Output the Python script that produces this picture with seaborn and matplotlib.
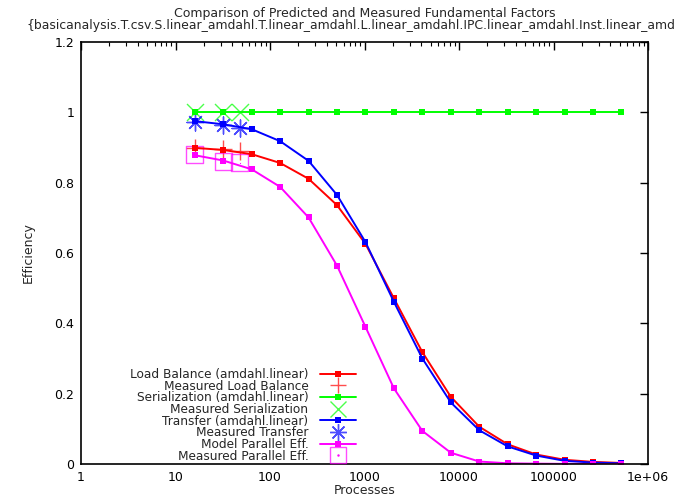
import numpy as np
import pandas as pd
import matplotlib
matplotlib.use("Agg")
import matplotlib.pyplot as plt
import seaborn as sns
from matplotlib.legend_handler import HandlerTuple
from matplotlib.lines import Line2D

# ---- data ----
procs = [16, 32, 64, 128, 256, 512, 1024, 2048, 4096, 8192, 16384, 32768,
         65536, 131072, 262144, 524288]
load_balance = [0.899, 0.893, 0.881, 0.856, 0.811, 0.736, 0.626, 0.471, 0.318,
                0.191, 0.106, 0.056, 0.027, 0.012, 0.006, 0.003]
serialization = [1.0] * 16
transfer = [0.975, 0.966, 0.952, 0.918, 0.862, 0.765, 0.631, 0.461, 0.300,
            0.175, 0.096, 0.050, 0.024, 0.009, 0.004, 0.002]
model_par = [0.878, 0.863, 0.838, 0.788, 0.701, 0.564, 0.390, 0.215, 0.094,
             0.032, 0.007, 0.002, 0.001, 0.0005, 0.0002, 0.0001]

meas_procs = [16, 32, 48]
meas_load = [0.900, 0.895, 0.890]
meas_ser = [1.0, 1.0, 1.0]
meas_transfer = [0.973, 0.964, 0.956]
meas_par = [0.881, 0.860, 0.856]

xtick_vals = [1, 10, 100, 1000, 10000, 100000, 1000000]
xtick_labels = ["1", "10", "100", "1000", "10000", "100000", "1e+06"]
ytick_vals = [0, 0.2, 0.4, 0.6, 0.8, 1.0, 1.2]
ytick_labels = ["0", "0.2", "0.4", "0.6", "0.8", "1", "1.2"]

title1 = "Comparison of Predicted and Measured Fundamental Factors"
title2 = "{basicanalysis.T.csv.S.linear_amdahl.T.linear_amdahl.L.linear_amdahl.IPC.linear_amdahl.Inst.linear_amdahl}"

# ---- style ----
sns.set_style("white")
plt.rcParams["font.family"] = ["DejaVu Sans"]
plt.rcParams["font.size"] = 9

W, H = 674, 497
fig = plt.figure(figsize=(W / 100, H / 100), dpi=100)
L, R, B, T = 81, 648, 464, 42
ax = fig.add_axes([L / W, (H - B) / H, (R - L) / W, (B - T) / H])
ax.set_xscale("log")

RED, GREEN, BLUE, MAG = "#ff0000", "#00ff00", "#0000ff", "#ff00ff"

model_df = pd.DataFrame({
    "procs": procs * 4,
    "eff": load_balance + serialization + transfer + model_par,
    "series": (["Load Balance (amdahl.linear)"] * 16 + ["Serialization (amdahl.linear)"] * 16
               + ["Transfer (amdahl.linear)"] * 16 + ["Model Parallel Eff."] * 16),
})
colors = {"Load Balance (amdahl.linear)": RED, "Serialization (amdahl.linear)": GREEN,
          "Transfer (amdahl.linear)": BLUE, "Model Parallel Eff.": MAG}

handles = {}
for name, col in colors.items():
    sub = model_df[model_df.series == name]
    sns.lineplot(data=sub, x="procs", y="eff", ax=ax, color=col, lw=1.4,
                 marker="s", markersize=4, markeredgewidth=0, legend=False)
    handles[name] = Line2D([], [], color=col, lw=1.4, marker="s", markersize=4,
                           markeredgewidth=0)

mk = dict(s=150, linewidths=1.0, alpha=0.7)
sns.scatterplot(x=meas_procs, y=meas_load, ax=ax, marker="+", color=RED, **mk)
sns.scatterplot(x=meas_procs, y=meas_ser, ax=ax, marker="x", color=GREEN, **mk)
sns.scatterplot(x=meas_procs, y=meas_transfer, ax=ax, marker=(8, 2, 0),
                color=BLUE, **mk)
sns.scatterplot(x=meas_procs, y=meas_par, ax=ax, marker="s", facecolor="none",
                edgecolor=MAG, s=150, linewidths=1.0, alpha=0.7)
sns.scatterplot(x=meas_procs, y=meas_par, ax=ax, marker=".", color=MAG, s=3,
                linewidths=0)

h_ml = Line2D([], [], ls="none", marker="+", color=RED, markersize=12, alpha=0.7)
h_ms = Line2D([], [], ls="none", marker="x", color=GREEN, markersize=12, alpha=0.7)
h_mt = Line2D([], [], ls="none", marker=(8, 2, 0), color=BLUE, markersize=12, alpha=0.7)
h_mp = Line2D([], [], ls="none", marker="s", markerfacecolor="none",
              markeredgecolor=MAG, markersize=11, alpha=0.7)
h_mpd = Line2D([], [], ls="none", marker=".", color=MAG, markersize=1.5)

leg_handles = [handles["Load Balance (amdahl.linear)"], h_ml,
               handles["Serialization (amdahl.linear)"], h_ms,
               handles["Transfer (amdahl.linear)"], h_mt,
               handles["Model Parallel Eff."], (h_mp, h_mpd)]
leg_labels = ["Load Balance (amdahl.linear)", "Measured Load Balance",
              "Serialization (amdahl.linear)", "Measured Serialization",
              "Transfer (amdahl.linear)", "Measured Transfer",
              "Model Parallel Eff.", "Measured Parallel Eff."]
ax.legend(leg_handles, leg_labels, loc="lower right",
          bbox_to_anchor=((365 - L) / (R - L), -0.017), markerfirst=False,
          frameon=False, labelspacing=-0.11, handlelength=3.0, handletextpad=0.95,
          borderpad=0.2, fontsize=8.75,
          handler_map={tuple: HandlerTuple(ndivide=1, pad=0)})

ax.set_xlim(1, 1e6)
ax.set_ylim(0, 1.2)
ax.set_xticks(xtick_vals)
ax.set_xticklabels(xtick_labels)
ax.set_yticks(ytick_vals)
ax.set_yticklabels(ytick_labels)
ax.tick_params(which="both", direction="in", top=True, right=True, colors="black",
               labelsize=9)
ax.tick_params(which="major", length=6, width=1, pad=5)
ax.tick_params(which="minor", length=3, width=0.8)
ax.tick_params(axis="y", which="minor", left=False, right=False)
for s in ax.spines.values():
    s.set_color("black")
    s.set_linewidth(1.2)
ax.set_xlabel("Processes", fontsize=9, labelpad=0)
ax.set_ylabel("Efficiency", fontsize=9, labelpad=14)

fig.text(365 / W, 1 - 13 / H, title1, ha="center", va="center", fontsize=9)
fig.text(27 / W, 1 - 25 / H, title2, ha="left", va="center", fontsize=8.9)

fig.savefig("out.png", dpi=100)
